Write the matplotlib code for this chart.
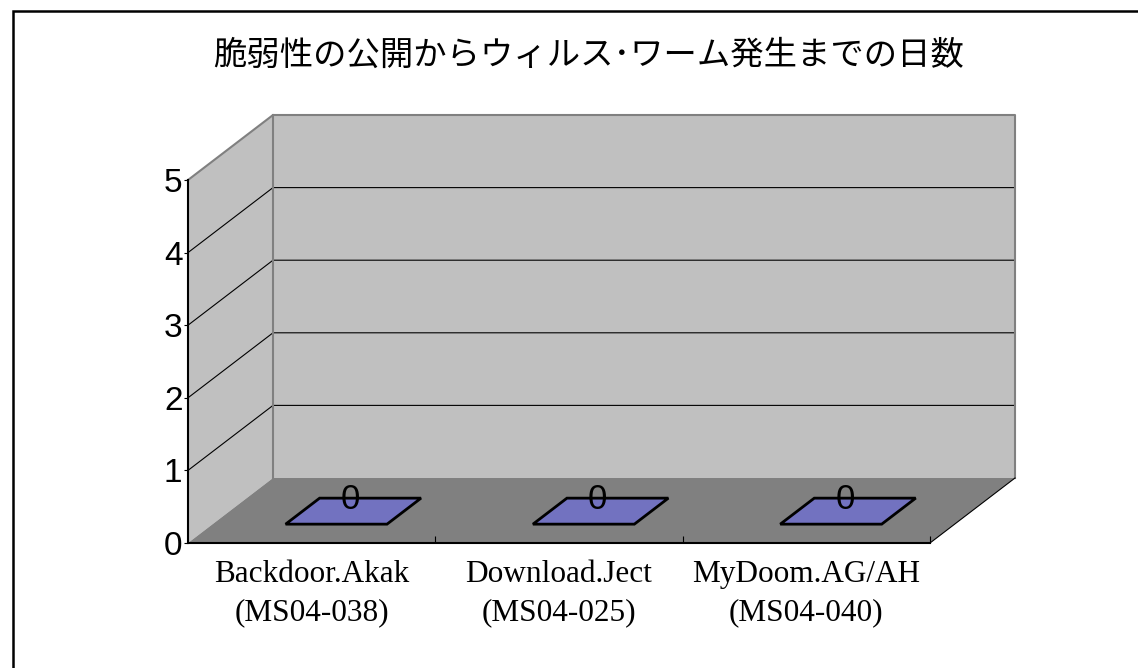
import matplotlib.pyplot as plt
from matplotlib.patches import Polygon, Rectangle

plt.rcParams['font.family'] = ['Noto Sans CJK JP', 'DejaVu Sans']

title = "脆弱性の公開からウィルス･ワーム発生までの日数"
categories = ["Backdoor.Akak\n(MS04-038)", "Download.Ject\n(MS04-025)", "MyDoom.AG/AH\n(MS04-040)"]
days = [0, 0, 0]
yticks = [0, 1, 2, 3, 4, 5]

W, H = 1138, 668
fig = plt.figure(figsize=(W / 100, H / 100), dpi=100)

# front plot area in pixels: x 188..930, y 543 (0) .. 180 (5)
ax = fig.add_axes([188 / W, (H - 543) / H, 742 / W, 363 / H])
ax.set_xlim(-0.5, 2.5)
ax.set_ylim(0, 5)

# 3d depth offset in data units
dx = 85 / 247.3
dy = 65 / 72.6
ymax = yticks[-1]
x0, x1 = -0.5, len(categories) - 0.5

floor = Polygon([(x0, 0), (x1, 0), (x1 + dx, dy), (x0 + dx, dy)],
                closed=True, fc='#808080', ec='none', clip_on=False, zorder=1)
back = Polygon([(x0 + dx, dy), (x1 + dx, dy), (x1 + dx, ymax + dy), (x0 + dx, ymax + dy)],
               closed=True, fc='#C0C0C0', ec='none', clip_on=False, zorder=0)
side = Polygon([(x0, 0), (x0 + dx, dy), (x0 + dx, ymax + dy), (x0, ymax)],
               closed=True, fc='#C0C0C0', ec='none', clip_on=False, zorder=0)
for p in (back, side, floor):
    ax.add_patch(p)

# gridlines on side and back wall
for v in yticks[1:-1]:
    ax.plot([x0, x0 + dx, x1 + dx], [v, v + dy, v + dy], color='black', lw=0.8,
            clip_on=False, zorder=2)
# wall edges
ax.plot([x0, x0 + dx, x1 + dx, x1 + dx], [ymax, ymax + dy, ymax + dy, dy],
        color='#808080', lw=1.5, clip_on=False, zorder=2)
ax.plot([x0 + dx, x0 + dx], [dy, ymax + dy], color='#808080', lw=1.5, clip_on=False, zorder=2)
ax.plot([x1, x1 + dx], [0, dy], color='black', lw=0.8, clip_on=False, zorder=2)

# flat bars (value 0) drawn as parallelograms on the floor
bw = 0.41
f0, f1 = 0.29, 0.69
for i, v in enumerate(days):
    pts = [(i - bw / 2 + f0 * dx, v + f0 * dy), (i + bw / 2 + f0 * dx, v + f0 * dy),
           (i + bw / 2 + f1 * dx, v + f1 * dy), (i - bw / 2 + f1 * dx, v + f1 * dy)]
    ax.add_patch(Polygon(pts, closed=True, fc='#7272C0', ec='black', lw=2,
                         clip_on=False, zorder=3))
    ax.text(i + 0.5 * dx - 0.015, v + 0.6, str(v), ha='center', va='center',
            fontsize=25, family=['Liberation Sans'], zorder=4)

ax.set_facecolor('none')
for s in ('top', 'right'):
    ax.spines[s].set_visible(False)
for s in ('left', 'bottom'):
    ax.spines[s].set_color('black')
    ax.spines[s].set_linewidth(1.5)
    ax.spines[s].set_zorder(5)

ax.set_yticks(yticks)
ax.set_yticklabels([str(t) for t in yticks], fontsize=24, family=['Liberation Sans'])
ax.tick_params(axis='y', length=3, pad=1, width=0.8)

ax.set_xticks(range(len(categories)))
ax.set_xticklabels(categories, fontsize=22.5, family=['Liberation Serif'], linespacing=1.45)
ax.set_xticks([0.5, 1.5, 2.5], minor=True)
ax.tick_params(axis='x', which='major', length=0, pad=12)
ax.tick_params(axis='x', which='minor', length=5, direction='in', width=0.8)

fig.text(589 / W, 1 - 55 / H, title, ha='center', va='center', fontsize=24)

# outer chart border (cut off on right and bottom)
fig.patches.append(Rectangle((13 / W, -0.1), 1.2, 1.1 - 11 / H, transform=fig.transFigure,
                             fill=False, ec='black', lw=1.8))

fig.savefig("out.png", dpi=100)
